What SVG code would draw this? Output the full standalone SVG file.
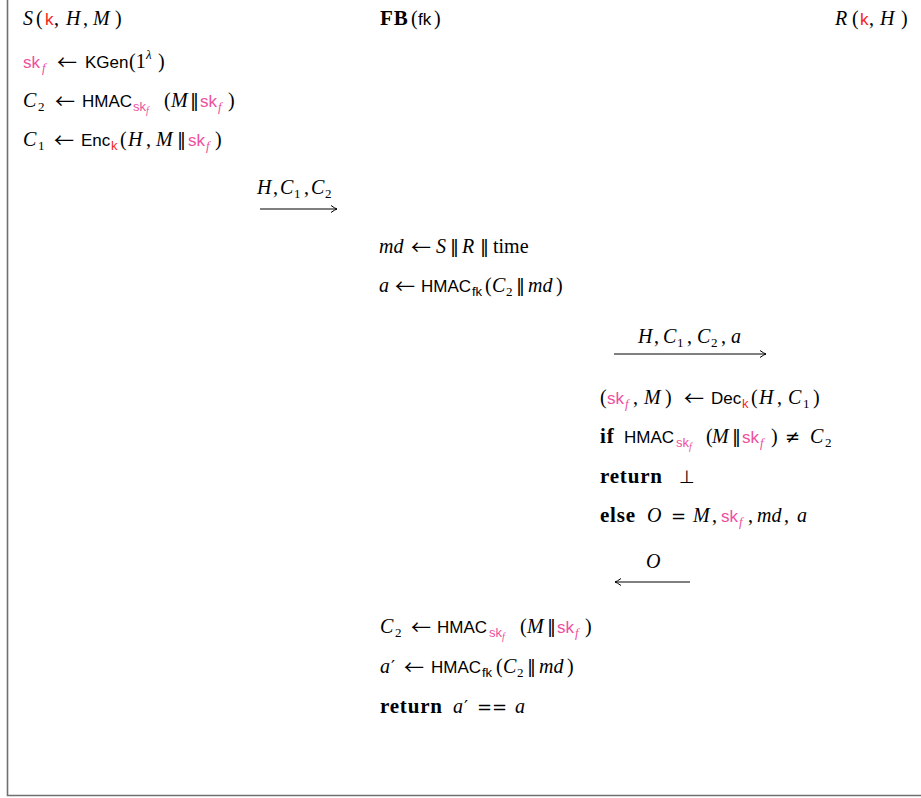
<svg xmlns="http://www.w3.org/2000/svg" width="921" height="798" viewBox="0 0 921 798">
<style>
text{font-family:"Liberation Serif","DejaVu Serif",serif;font-size:20px;fill:#000}
.i{font-style:italic}
.s{font-family:"Liberation Sans","DejaVu Sans",sans-serif;font-size:17px}
.b{font-weight:bold;font-size:21px;letter-spacing:0.8px}
.ar{font-family:"Noto Sans CJK JP","DejaVu Sans",sans-serif;font-size:20px}
.op{font-family:"DejaVu Sans",sans-serif;font-size:18px}
.sb{font-size:13px}
.ssb{font-size:10px}
.k{fill:#f42323}
.p{fill:#ee4f9e}
.frame{stroke:#707070;stroke-width:1.6;fill:none}
.conn line{stroke:#000;stroke-width:1}
</style>
<defs>
<marker id="ah" viewBox="-8 -5 10 10" refX="0" refY="0" markerWidth="10" markerHeight="10" markerUnits="userSpaceOnUse" orient="auto">
<path d="M-6,-3.5 Q-2,-0.6 0,0 Q-2,0.6 -6,3.5" fill="none" stroke="#000" stroke-width="1"/>
</marker>
</defs>
<rect width="921" height="798" fill="#fff"/>
<path class="frame" d="M7.5,0 V795.5 H921"/>

<g id="sender">
<text y="25"><tspan x="23" class="i">S</tspan><tspan x="36">(</tspan><tspan x="45" class="s k">k</tspan><tspan x="54">,</tspan><tspan x="66" class="i">H</tspan><tspan x="83">,</tspan><tspan x="93" class="i">M</tspan><tspan x="115">)</tspan></text>
<text y="68"><tspan x="23" class="s p">sk</tspan><tspan x="42" y="72" class="i p sb">f</tspan><tspan x="57" y="70" class="ar">←</tspan><tspan x="85" y="68" class="s">KGen</tspan><tspan x="129">(1</tspan><tspan x="146" y="59" class="i sb">λ</tspan><tspan x="158" y="68">)</tspan></text>
<text y="107"><tspan x="23" class="i">C</tspan><tspan x="38" y="111" class="sb">2</tspan><tspan x="55" y="109" class="ar">←</tspan><tspan x="82" y="107" class="s">HMAC</tspan><tspan x="133" y="111" class="s p sb">sk</tspan><tspan x="146" y="114" class="i p ssb">f</tspan><tspan x="164" y="107">(</tspan><tspan x="171" class="i">M</tspan><tspan x="190" class="op">‖</tspan><tspan x="200" class="s p">sk</tspan><tspan x="218" y="111" class="i p sb">f</tspan><tspan x="228" y="107">)</tspan></text>
<text y="146"><tspan x="23" class="i">C</tspan><tspan x="38" y="150" class="sb">1</tspan><tspan x="54" y="148" class="ar">←</tspan><tspan x="81" y="146" class="s">Enc</tspan><tspan x="111" y="150" class="s k sb">k</tspan><tspan x="120" y="146">(</tspan><tspan x="128" class="i">H</tspan><tspan x="146">,</tspan><tspan x="156" class="i">M</tspan><tspan x="177" class="op">‖</tspan><tspan x="188" class="s p">sk</tspan><tspan x="206" y="150" class="i p sb">f</tspan><tspan x="215" y="146">)</tspan></text>
</g>

<g id="fb">
<text y="25"><tspan x="380" class="b">FB</tspan><tspan x="411">(</tspan><tspan x="418" class="s">fk</tspan><tspan x="434">)</tspan></text>
<text y="253"><tspan x="379" class="i">md</tspan><tspan x="411" y="255" class="ar">←</tspan><tspan x="436" y="253" class="i">S</tspan><tspan x="450" class="op">‖</tspan><tspan x="462" class="i">R</tspan><tspan x="480" class="op">‖</tspan><tspan x="493">time</tspan></text>
<text y="292"><tspan x="379" class="i">a</tspan><tspan x="395" y="294" class="ar">←</tspan><tspan x="421" y="292" class="s">HMAC</tspan><tspan x="472" y="296" class="s sb">fk</tspan><tspan x="485" y="292">(</tspan><tspan x="492" class="i">C</tspan><tspan x="506" y="296" class="sb">2</tspan><tspan x="516" y="292" class="op">‖</tspan><tspan x="528" class="i">md</tspan><tspan x="556">)</tspan></text>
<text y="633"><tspan x="380" class="i">C</tspan><tspan x="395" y="637" class="sb">2</tspan><tspan x="411" y="635" class="ar">←</tspan><tspan x="437" y="633" class="s">HMAC</tspan><tspan x="489" y="637" class="s p sb">sk</tspan><tspan x="502" y="640" class="i p ssb">f</tspan><tspan x="520" y="633">(</tspan><tspan x="527" class="i">M</tspan><tspan x="547" class="op">‖</tspan><tspan x="557" class="s p">sk</tspan><tspan x="575" y="637" class="i p sb">f</tspan><tspan x="585" y="633">)</tspan></text>
<text y="673"><tspan x="380" class="i">a</tspan><tspan x="391" class="op">′</tspan><tspan x="404" y="675" class="ar">←</tspan><tspan x="431" y="673" class="s">HMAC</tspan><tspan x="482" y="677" class="s sb">fk</tspan><tspan x="496" y="673">(</tspan><tspan x="503" class="i">C</tspan><tspan x="517" y="677" class="sb">2</tspan><tspan x="527" y="673" class="op">‖</tspan><tspan x="539" class="i">md</tspan><tspan x="567">)</tspan></text>
<text y="713"><tspan x="380" class="b">return</tspan><tspan x="453" class="i">a</tspan><tspan x="464" class="op">′</tspan><tspan x="477" class="op">==</tspan><tspan x="515" class="i">a</tspan></text>
</g>

<g id="receiver">
<text y="25"><tspan x="835" class="i">R</tspan><tspan x="852">(</tspan><tspan x="860" class="s k">k</tspan><tspan x="869">,</tspan><tspan x="880" class="i">H</tspan><tspan x="901">)</tspan></text>
<text y="404"><tspan x="600">(</tspan><tspan x="607" class="s p">sk</tspan><tspan x="625" y="408" class="i p sb">f</tspan><tspan x="633" y="404">,</tspan><tspan x="644" class="i">M</tspan><tspan x="665">)</tspan><tspan x="684" y="406" class="ar">←</tspan><tspan x="711" y="404" class="s">Dec</tspan><tspan x="742" y="408" class="s k sb">k</tspan><tspan x="751" y="404">(</tspan><tspan x="759" class="i">H</tspan><tspan x="777">,</tspan><tspan x="788" class="i">C</tspan><tspan x="803" y="408" class="sb">1</tspan><tspan x="813" y="404">)</tspan></text>
<text y="443"><tspan x="600" class="b">if</tspan><tspan x="624" class="s">HMAC</tspan><tspan x="676" y="447" class="s p sb">sk</tspan><tspan x="689" y="450" class="i p ssb">f</tspan><tspan x="706" y="443">(</tspan><tspan x="712" class="i">M</tspan><tspan x="732" class="op">‖</tspan><tspan x="742" class="s p">sk</tspan><tspan x="760" y="447" class="i p sb">f</tspan><tspan x="771" y="443">)</tspan><tspan x="785" class="op">≠</tspan><tspan x="810" class="i">C</tspan><tspan x="825" y="447" class="sb">2</tspan></text>
<text y="483"><tspan x="600" class="b">return</tspan><tspan x="679" class="op">⊥</tspan></text>
<text y="522"><tspan x="600" class="b">else</tspan><tspan x="647" class="i">O</tspan><tspan x="671" class="op">=</tspan><tspan x="693" class="i">M</tspan><tspan x="712">,</tspan><tspan x="721" class="s p">sk</tspan><tspan x="739" y="526" class="i p sb">f</tspan><tspan x="748" y="522">,</tspan><tspan x="757" class="i">md</tspan><tspan x="784">,</tspan><tspan x="797" class="i">a</tspan></text>
</g>

<g id="connectors" class="conn">
<line x1="260" y1="209" x2="337" y2="209" marker-end="url(#ah)"/>
<line x1="614" y1="354" x2="766" y2="354" marker-end="url(#ah)"/>
<line x1="690" y1="582" x2="615" y2="582" marker-end="url(#ah)"/>
<text y="194"><tspan x="257" class="i">H</tspan><tspan x="273">,</tspan><tspan x="280" class="i">C</tspan><tspan x="294" y="198" class="sb">1</tspan><tspan x="304" y="194">,</tspan><tspan x="311" class="i">C</tspan><tspan x="325" y="198" class="sb">2</tspan></text>
<text y="343"><tspan x="638" class="i">H</tspan><tspan x="654">,</tspan><tspan x="663" class="i">C</tspan><tspan x="677" y="347" class="sb">1</tspan><tspan x="687" y="343">,</tspan><tspan x="697" class="i">C</tspan><tspan x="711" y="347" class="sb">2</tspan><tspan x="721" y="343">,</tspan><tspan x="731" class="i">a</tspan></text>
<text y="568"><tspan x="646" class="i">O</tspan></text>
</g>
</svg>
